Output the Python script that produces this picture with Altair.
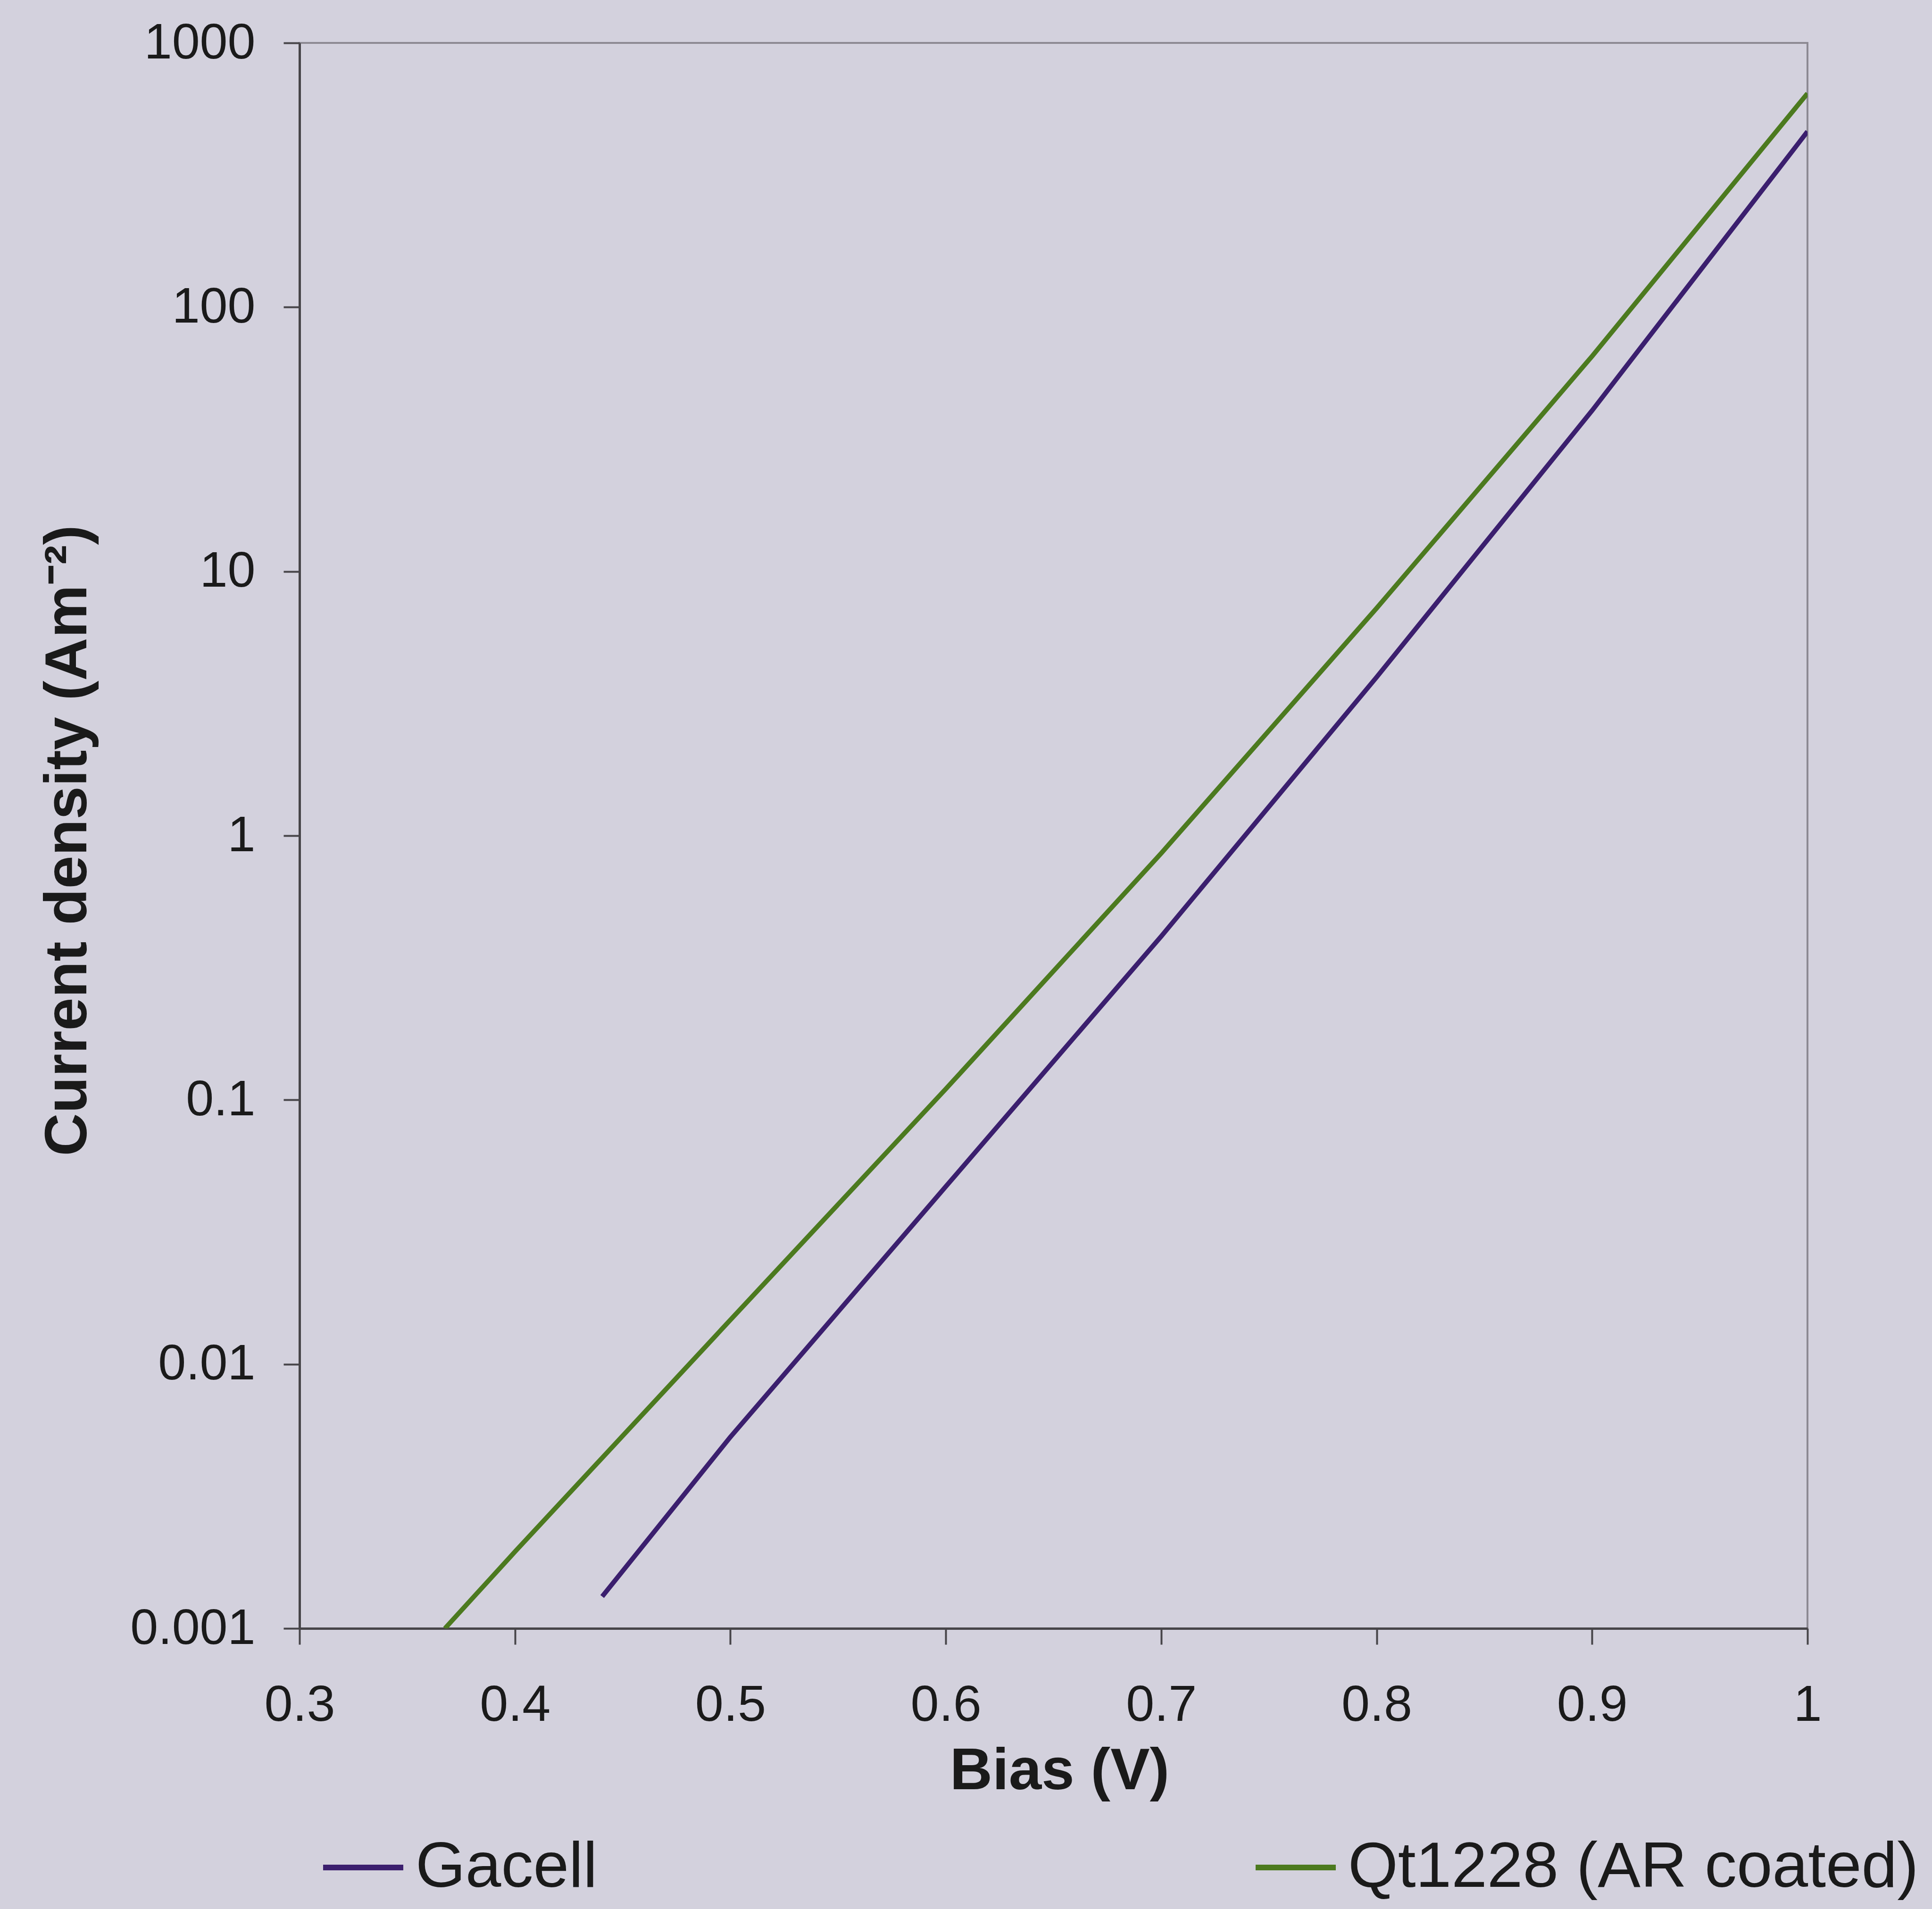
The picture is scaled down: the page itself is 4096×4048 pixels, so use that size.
import altair as alt
import pandas as pd

# ---- data ----
series_names = ["Gacell", "Qt1228 (AR coated)"]
series_colors = ["#3b1f6e", "#4c7a1f"]

gacell_bias = [0.4405, 0.5, 0.6, 0.7, 0.8, 0.9, 1.0]
gacell_j = [0.00132, 0.0053, 0.047, 0.416, 3.98, 40.6, 462]

qt_bias = [0.3675, 0.4, 0.5, 0.6, 0.7, 0.8, 0.9, 1.0]
qt_j = [0.001, 0.00195, 0.0147, 0.110, 0.858, 7.26, 65.2, 644]

x_ticks = [0.3, 0.4, 0.5, 0.6, 0.7, 0.8, 0.9, 1.0]
y_ticks = [0.001, 0.01, 0.1, 1, 10, 100, 1000]

rows = []
for b, j in zip(gacell_bias, gacell_j):
    rows.append({"series": series_names[0], "bias": b, "j": j})
for b, j in zip(qt_bias, qt_j):
    rows.append({"series": series_names[1], "bias": b, "j": j})
df = pd.DataFrame(rows)

FONT = "Liberation Sans"
TXT = "#1a1a1a"
AX = "#474549"

PLOT_W = 3197
PLOT_H = 3362
PAD_L = 635
PAD_T = 91

chart = alt.Chart(df).mark_line(strokeWidth=10, clip=True).encode(
    x=alt.X(
        "bias:Q",
        scale=alt.Scale(domain=[0.3, 1.0], nice=False, zero=False),
        axis=alt.Axis(
            values=x_ticks, format="~g", title="Bias (V)",
            grid=False, labelFlush=False, labelOverlap=False, labelLimit=0,
            domainColor=AX, domainWidth=5, tickColor=AX, tickWidth=4, tickSize=34,
            labelFont=FONT, labelFontSize=108, labelColor=TXT, labelPadding=76,
            titleFont=FONT, titleFontSize=125, titleFontWeight="bold", titleColor=TXT,
            titleX=1611, titleY=340, titleBaseline="alphabetic", titleAlign="center",
        ),
    ),
    y=alt.Y(
        "j:Q",
        scale=alt.Scale(type="log", domain=[0.001, 1000], nice=False),
        axis=alt.Axis(
            values=y_ticks, format="~g", title="Current density (Am\u207b\u00b2)",
            grid=False, labelFlush=False, labelOverlap=False, labelLimit=0,
            domainColor=AX, domainWidth=5, tickColor=AX, tickWidth=4, tickSize=34,
            labelFont=FONT, labelFontSize=106, labelColor=TXT, labelPadding=60,
            titleFont=FONT, titleFontSize=126, titleFontWeight="bold", titleColor=TXT,
            titleX=-453, titleY=1691, titleAngle=270, titleAlign="center",
            titleBaseline="alphabetic",
        ),
    ),
    color=alt.Color(
        "series:N",
        scale=alt.Scale(domain=series_names, range=series_colors),
        legend=alt.Legend(
            title=None, orient="none", legendX=44, legendY=3778,
            direction="horizontal", columns=2, columnPadding=1371,
            symbolType="stroke", symbolSize=28900, symbolStrokeWidth=12,
            labelFont=FONT, labelFontSize=136, labelColor=TXT, labelOffset=20,
            labelLimit=0, padding=0,
        ),
    ),
    order="bias:Q",
).properties(
    width=PLOT_W,
    height=PLOT_H,
    autosize=alt.AutoSizeParams(type="none"),
    padding={"left": PAD_L, "top": PAD_T, "right": 4096 - PAD_L - PLOT_W, "bottom": 4048 - PAD_T - PLOT_H},
).configure(
    background="#d3d1dd",
).configure_view(
    stroke="#8d8a93", strokeWidth=4,
)

chart.save("out.html", embed_options={"renderer": "svg", "actions": False})
